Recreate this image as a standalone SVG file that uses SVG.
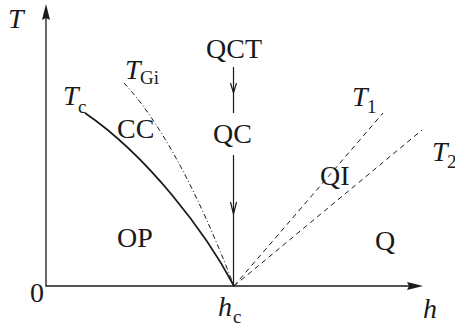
<svg xmlns="http://www.w3.org/2000/svg" width="455" height="327" viewBox="0 0 455 327">
<style>
text{font-family:"Liberation Serif",Tinos,"Times New Roman",Times,"Nimbus Roman","Nimbus Roman No9 L",FreeSerif,"Noto Serif","DejaVu Serif",serif;fill:#1a1a1a;font-size:28px}
.it{font-style:italic}
.sub{font-size:19px}
.ax{stroke:#1a1a1a;stroke-width:1.3;fill:none}
.tc{stroke:#1a1a1a;stroke-width:1.8;fill:none}
.dash{stroke:#1a1a1a;stroke-width:1;fill:none;stroke-dasharray:5 4}
.dd{stroke:#1a1a1a;stroke-width:1;fill:none;stroke-dasharray:5 2.5 1 2.5}
.arr{stroke:#1a1a1a;stroke-width:1.2;fill:none}
.head{fill:#1a1a1a;stroke:none}
</style>
<rect width="455" height="327" fill="#ffffff"/>
<g id="axes">
<path class="ax" d="M46,16 V286 H410"/>
<path class="head" d="M46,4 L42,20 L46,18 L50,20 Z"/>
<path class="head" d="M423,286 L407,282 L409,286 L407,290 Z"/>
<text x="8" y="28" class="it">T</text>
<text x="30" y="302">0</text>
<text x="423" y="318" class="it">h</text>
<text x="218" y="316" class="it">h</text><text x="233" y="323" class="sub">c</text>
</g>
<g id="curve-Tc">
<path class="tc" d="M85,113 C148,156 206,233 234,286"/>
<text x="63" y="105" class="it">T</text><text x="78" y="113" class="sub">c</text>
</g>
<g id="curve-TGi">
<path class="dd" d="M124,83 C171,133 211,226 234,286"/>
<text x="125" y="79" class="it">T</text><text x="140" y="84" class="sub">Gi</text>
</g>
<g id="curve-T1">
<path class="dash" d="M234,286 L383,113"/>
<text x="352" y="106" class="it">T</text><text x="367" y="113" class="sub">1</text>
</g>
<g id="curve-T2">
<path class="dash" d="M234,286 L422,130"/>
<text x="432" y="161" class="it">T</text><text x="447" y="168" class="sub">2</text>
</g>
<g id="node-QCT"><text x="206" y="58">QCT</text></g>
<g id="node-QC"><text x="213" y="143">QC</text></g>
<g id="node-CC"><text x="117" y="138">CC</text></g>
<g id="node-OP"><text x="117" y="247">OP</text></g>
<g id="node-QI"><text x="320" y="185">QI</text></g>
<g id="node-Q"><text x="375" y="250">Q</text></g>
<g id="connectors">
<path class="arr" d="M233.5,67 V113"/>
<path class="arr" d="M230.5,83 L233.5,93 L236.5,83"/>
<path class="arr" d="M233.5,155 V286"/>
<path class="arr" d="M230.5,202 L233.5,214 L236.5,202"/>
</g>
</svg>
